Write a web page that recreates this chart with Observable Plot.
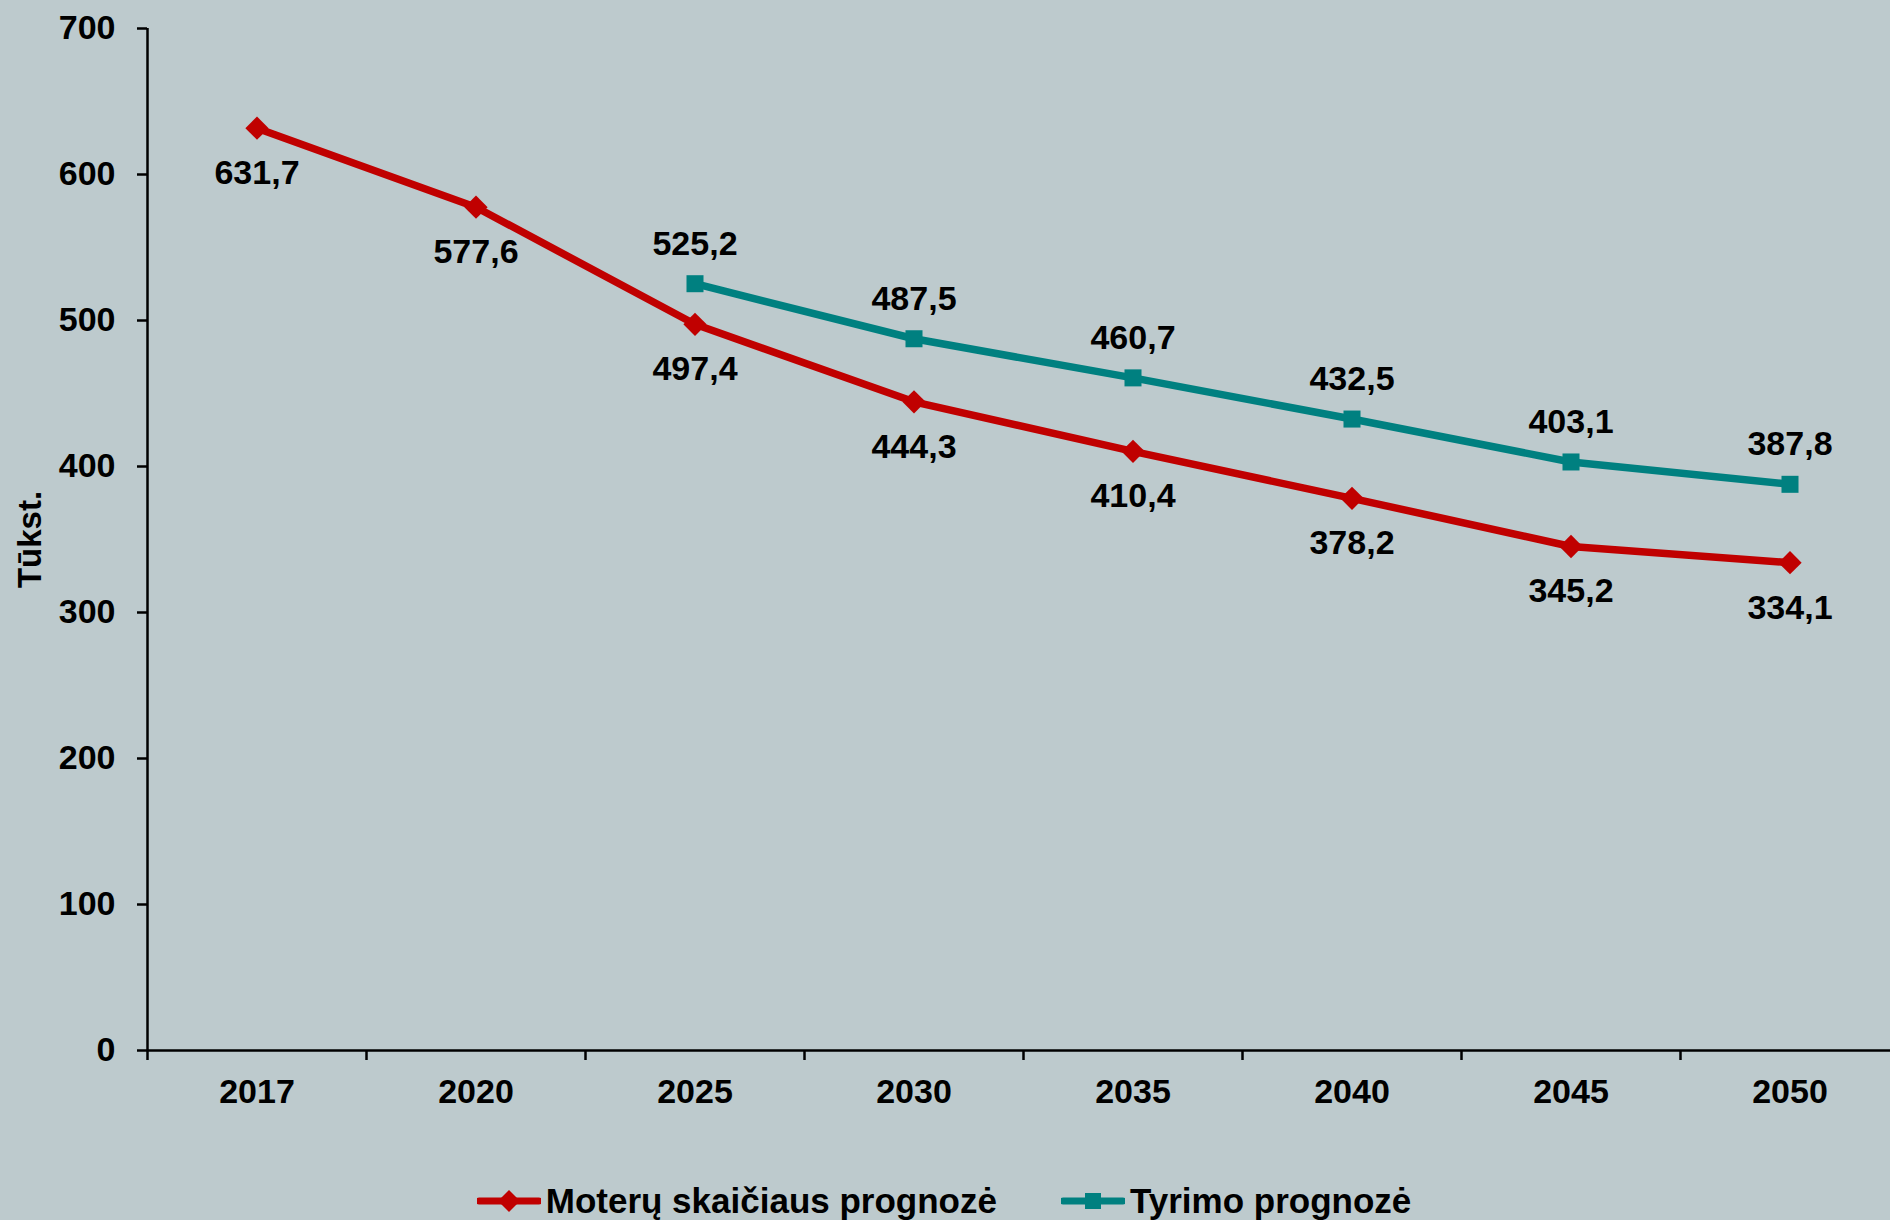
<!DOCTYPE html>
<html>
<head>
<meta charset="utf-8">
<script src="https://cdn.jsdelivr.net/npm/d3@7"></script>
<script src="https://cdn.jsdelivr.net/npm/@observablehq/plot@0.6"></script>
<style>
  html, body { margin: 0; padding: 0; background: #bdcacd; width: 1890px; height: 1220px; overflow: hidden; }
  body { font-family: "Liberation Sans", Arial, sans-serif; font-weight: bold; }
  #chart svg { display: block; }
  #legend { display: flex; justify-content: center; align-items: center; gap: 64px; margin-top: 41px; margin-left: -2px; font-size: 35px; color: #000; }
  .item { display: flex; align-items: center; gap: 5px; }
</style>
</head>
<body>
<div id="chart"></div>
<div id="legend"></div>
<script>
const years = ["2017", "2020", "2025", "2030", "2035", "2040", "2045", "2050"];
const women = [631.7, 577.6, 497.4, 444.3, 410.4, 378.2, 345.2, 334.1];
const study = [null, null, 525.2, 487.5, 460.7, 432.5, 403.1, 387.8];
const yTicks = [0, 100, 200, 300, 400, 500, 600, 700];
const seriesNames = ["Moterų skaičiaus prognozė", "Tyrimo prognozė"];
const yLabel = "Tūkst.";

const RED = "#c00000";
const TEAL = "#008080";
const fmt = v => d3.format(".1f")(v).replace(".", ",");

const rows = years.map((y, i) => ({pos: i + 0.5, year: y, women: women[i], study: study[i]}));
const studyRows = rows.filter(d => d.study != null);

const chart = Plot.plot({
  width: 1890,
  height: 1140,
  marginLeft: 147,
  marginRight: -9,
  marginTop: 28,
  marginBottom: 90,
  style: {background: "transparent", fontFamily: "'Liberation Sans', Arial, sans-serif", fontWeight: "bold", color: "#000"},
  x: {type: "linear", domain: [0, years.length]},
  y: {domain: [0, 700]},
  marks: [
    Plot.axisY({ticks: yTicks, tickSize: 10, tickPadding: 22, fontSize: 34, label: null, strokeWidth: 2.5}),
    Plot.axisX({ticks: d3.range(0, years.length + 1), tickSize: 10, tickFormat: () => "", label: null, strokeWidth: 2.5}),
    Plot.axisX({ticks: rows.map(d => d.pos), tickSize: 0, tickPadding: 28, fontSize: 34, tickFormat: d => years[Math.round(d - 0.5)], label: null}),
    Plot.ruleX([0], {stroke: "#000", strokeWidth: 2.5}),
    Plot.ruleY([0], {stroke: "#000", strokeWidth: 2.5}),
    Plot.text([yLabel], {frameAnchor: "left", textAnchor: "middle", rotate: -90, dx: -117, fontSize: 33, fontWeight: "bold", fill: "#000"}),
    Plot.line(rows, {x: "pos", y: "women", stroke: RED, strokeWidth: 7.5}),
    Plot.line(studyRows, {x: "pos", y: "study", stroke: TEAL, strokeWidth: 7.5}),
    Plot.dot(rows, {x: "pos", y: "women", symbol: "diamond2", r: 10.5, fill: RED, stroke: "none"}),
    Plot.dot(studyRows, {x: "pos", y: "study", symbol: "square", r: 9.6, fill: TEAL, stroke: "none"}),
    Plot.text(rows, {x: "pos", y: "women", text: d => fmt(d.women), dy: 45, fontSize: 34, fontWeight: "bold", fill: "#000"}),
    Plot.text(studyRows, {x: "pos", y: "study", text: d => fmt(d.study), dy: -40, fontSize: 34, fontWeight: "bold", fill: "#000"})
  ]
});
document.getElementById("chart").appendChild(chart);

const legend = document.getElementById("legend");
const symbols = [
  `<svg width="64" height="26"><line x1="2" y1="13" x2="62" y2="13" stroke="${RED}" stroke-width="7" stroke-linecap="round"/><path d="M32,2 L43,13 L32,24 L21,13 Z" fill="${RED}"/></svg>`,
  `<svg width="64" height="26"><line x1="2" y1="13" x2="62" y2="13" stroke="${TEAL}" stroke-width="7" stroke-linecap="round"/><rect x="24" y="5" width="16" height="16" fill="${TEAL}"/></svg>`
];
seriesNames.forEach((name, i) => {
  const item = document.createElement("div");
  item.className = "item";
  item.innerHTML = symbols[i] + `<span>${name}</span>`;
  legend.appendChild(item);
});
</script>
</body>
</html>
